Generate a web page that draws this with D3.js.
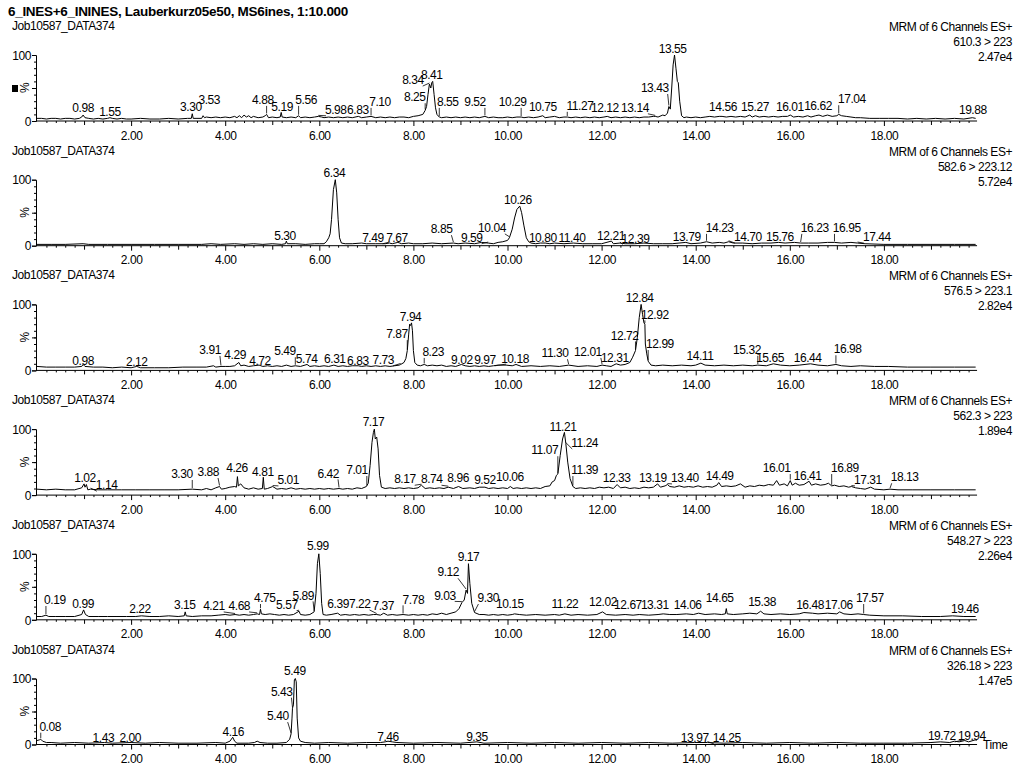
<!DOCTYPE html>
<html><head><meta charset="utf-8">
<script src="https://cdn.jsdelivr.net/npm/d3@7"></script>
<style>
body{margin:0;background:#fff;}
text{font-family:"Liberation Sans",Arial,sans-serif;font-size:12px;letter-spacing:-0.45px;fill:#000;}
</style></head><body>
<svg id="c" width="1017" height="770"></svg>
<script>
const title = "6_INES+6_ININES, Lauberkurz05e50, MS6ines, 1:10.000";
const sampleName = "Job10587_DATA374";
const channelDesc = "MRM of 6 Channels ES+";
const transitions = ["610.3 > 223","582.6 > 223.12","576.5 > 223.1","562.3 > 223","548.27 > 223","326.18 > 223"];
const intensities = ["2.47e4","5.72e4","2.82e4","1.89e4","2.26e4","1.47e5"];
const xTickLabels = [2,4,6,8,10,12,14,16,18];

const trace1 = [[0,4],[0.1,4],[0.2,3],[0.3,4],[0.4,4],[0.5,3],[0.6,4],[0.7,4],[0.8,3],[0.9,4],[0.95,6],[0.98,9],[1.02,5],[1.1,4],[1.2,3],[1.3,4],[1.4,3],[1.5,4],[1.55,5],[1.6,4],[1.7,3],[1.8,4],[1.9,3],[2.0,3],[2.2,4],[2.4,3],[2.6,3],[2.8,4],[3.0,3],[3.2,4],[3.28,4],[3.30,11],[3.32,4],[3.4,4],[3.5,4],[3.53,8],[3.56,5],[3.6,6],[3.7,5],[3.8,6],[3.9,5],[4.0,6],[4.1,5],[4.2,7],[4.25,5],[4.3,8],[4.35,5],[4.4,9],[4.45,6],[4.5,8],[4.55,5],[4.6,7],[4.7,5],[4.8,6],[4.85,8],[4.88,10],[4.92,5],[5.0,6],[5.1,5],[5.17,6],[5.19,13],[5.21,6],[5.3,5],[5.4,6],[5.5,5],[5.56,8],[5.6,5],[5.7,6],[5.8,5],[5.9,6],[5.98,7],[6.05,6],[6.1,5],[6.2,6],[6.3,5],[6.4,6],[6.5,5],[6.6,6],[6.7,5],[6.83,7],[6.9,5],[7.0,6],[7.1,7],[7.2,5],[7.3,6],[7.4,5],[7.5,6],[7.6,5],[7.7,6],[7.8,6],[7.9,5],[8.0,7],[8.1,8],[8.2,10],[8.25,16],[8.28,22],[8.31,40],[8.34,56],[8.37,50],[8.39,58],[8.41,60],[8.44,40],[8.47,20],[8.5,10],[8.55,6],[8.6,5],[8.7,6],[8.8,5],[8.9,6],[9.0,5],[9.1,6],[9.2,5],[9.3,6],[9.4,5],[9.52,7],[9.6,5],[9.7,6],[9.8,5],[9.9,5],[10.0,6],[10.1,5],[10.2,6],[10.29,6],[10.35,5],[10.45,6],[10.55,5],[10.65,6],[10.75,8],[10.8,5],[10.9,6],[11.0,7],[11.1,5],[11.2,6],[11.27,6],[11.35,5],[11.45,6],[11.55,5],[11.65,6],[11.75,5],[11.85,6],[11.95,5],[12.05,6],[12.12,7],[12.2,5],[12.3,6],[12.4,5],[12.5,6],[12.6,5],[12.7,6],[12.8,5],[12.9,6],[13.0,6],[13.1,7],[13.14,7],[13.2,6],[13.3,9],[13.35,8],[13.4,12],[13.43,22],[13.46,18],[13.49,50],[13.52,85],[13.55,100],[13.58,80],[13.61,60],[13.63,58],[13.66,30],[13.7,8],[13.75,5],[13.8,6],[13.9,5],[14.0,6],[14.1,5],[14.2,6],[14.3,7],[14.4,6],[14.5,7],[14.56,7],[14.65,6],[14.75,7],[14.85,6],[14.95,7],[15.05,6],[15.15,9],[15.2,6],[15.27,8],[15.35,6],[15.45,7],[15.55,6],[15.65,7],[15.75,6],[15.85,7],[15.95,7],[16.01,9],[16.08,6],[16.18,7],[16.28,6],[16.38,8],[16.45,6],[16.55,8],[16.62,9],[16.7,7],[16.8,9],[16.9,7],[17.0,8],[17.04,10],[17.1,8],[17.2,7],[17.3,6],[17.4,5],[17.5,5],[17.7,4],[17.9,4],[18.1,4],[18.3,4],[18.5,3],[18.7,4],[18.9,3],[19.1,4],[19.3,3],[19.5,4],[19.7,3],[19.88,5],[19.95,4]];
const trace2 = [[0,2],[0.3,2],[0.6,2],[0.98,3],[1.1,2],[1.5,2],[2.0,2],[2.5,2],[3.0,2],[3.5,2],[3.7,3],[3.9,2],[4.2,3],[4.4,2],[4.6,3],[4.8,2],[5.0,3],[5.2,2],[5.28,3],[5.30,7],[5.32,3],[5.5,3],[5.7,2],[5.9,3],[6.0,3],[6.1,3],[6.15,6],[6.2,12],[6.23,18],[6.26,40],[6.3,85],[6.34,100],[6.37,80],[6.4,40],[6.43,12],[6.47,4],[6.55,3],[6.7,3],[6.9,4],[7.0,3],[7.2,3],[7.4,3],[7.49,4],[7.55,3],[7.67,5],[7.75,3],[7.9,4],[8.0,3],[8.2,3],[8.4,4],[8.6,3],[8.85,4],[8.95,3],[9.1,4],[9.3,3],[9.45,5],[9.59,4],[9.7,3],[9.8,5],[9.9,6],[10.0,8],[10.04,12],[10.1,25],[10.15,42],[10.2,55],[10.26,60],[10.3,50],[10.35,30],[10.4,12],[10.45,6],[10.5,4],[10.6,3],[10.7,4],[10.8,4],[10.9,3],[11.0,4],[11.2,3],[11.4,4],[11.6,3],[11.8,3],[12.0,3],[12.21,7],[12.25,3],[12.39,4],[12.5,3],[12.7,3],[12.9,4],[13.1,3],[13.3,3],[13.5,3],[13.79,5],[13.9,3],[14.1,4],[14.23,6],[14.35,4],[14.5,5],[14.6,4],[14.7,6],[14.8,4],[15.0,4],[15.2,3],[15.4,4],[15.6,4],[15.76,5],[15.9,4],[16.1,5],[16.23,4],[16.4,4],[16.6,4],[16.8,5],[16.95,5],[17.1,4],[17.3,5],[17.44,4],[17.6,3],[18.0,2],[18.5,2],[19.0,2],[19.5,2],[19.95,2]];
const trace3 = [[0,6],[0.2,5],[0.4,5],[0.6,5],[0.8,5],[0.95,6],[0.98,9],[1.02,6],[1.2,5],[1.4,5],[1.6,4],[1.8,5],[2.0,4],[2.12,6],[2.2,4],[2.5,4],[2.8,4],[3.1,5],[3.4,5],[3.6,5],[3.75,7],[3.8,5],[3.91,6],[4.0,6],[4.1,6],[4.2,7],[4.29,12],[4.33,7],[4.4,8],[4.5,6],[4.6,7],[4.72,8],[4.8,6],[4.9,7],[5.0,6],[5.1,7],[5.2,6],[5.3,8],[5.4,6],[5.49,7],[5.6,6],[5.74,9],[5.8,6],[5.9,7],[6.0,6],[6.1,7],[6.2,6],[6.31,8],[6.4,6],[6.5,7],[6.6,6],[6.7,7],[6.83,7],[6.9,6],[7.0,7],[7.1,6],[7.2,7],[7.3,6],[7.4,7],[7.5,6],[7.6,7],[7.7,8],[7.73,9],[7.8,12],[7.84,18],[7.87,30],[7.9,55],[7.92,70],[7.94,68],[7.96,72],[7.98,60],[8.0,30],[8.03,12],[8.08,8],[8.15,7],[8.23,9],[8.3,7],[8.4,8],[8.5,7],[8.6,8],[8.7,6],[8.8,7],[8.9,6],[9.02,9],[9.1,7],[9.2,6],[9.3,7],[9.4,6],[9.5,7],[9.6,6],[9.7,7],[9.8,8],[9.97,8],[10.1,7],[10.18,9],[10.3,6],[10.5,7],[10.7,6],[10.9,7],[11.1,6],[11.3,8],[11.5,6],[11.7,7],[11.9,6],[12.01,8],[12.1,7],[12.2,6],[12.31,10],[12.4,8],[12.5,9],[12.6,12],[12.66,20],[12.72,30],[12.76,50],[12.8,80],[12.84,100],[12.87,85],[12.9,72],[12.92,70],[12.93,40],[12.96,25],[12.99,14],[13.05,8],[13.15,7],[13.3,8],[13.5,7],[13.7,8],[13.9,7],[14.0,8],[14.11,11],[14.2,8],[14.4,7],[14.6,8],[14.8,7],[15.0,8],[15.2,7],[15.32,8],[15.5,7],[15.65,10],[15.8,8],[16.0,7],[16.2,8],[16.44,10],[16.6,8],[16.8,7],[16.98,9],[17.1,7],[17.3,6],[17.5,7],[17.8,6],[18.1,6],[18.5,5],[19.0,5],[19.5,5],[19.95,5]];
const trace4 = [[0,9],[0.2,8],[0.4,9],[0.6,8],[0.8,8],[0.95,11],[1.0,17],[1.02,12],[1.05,16],[1.08,8],[1.14,9],[1.3,8],[1.5,8],[1.8,8],[2.1,8],[2.4,8],[2.7,8],[3.0,8],[3.3,9],[3.5,8],[3.6,10],[3.7,8],[3.8,11],[3.88,13],[3.92,9],[4.0,10],[4.1,12],[4.2,13],[4.24,12],[4.26,28],[4.28,14],[4.33,17],[4.4,11],[4.5,9],[4.6,11],[4.7,9],[4.79,10],[4.81,27],[4.83,9],[4.9,10],[5.01,13],[5.1,9],[5.2,10],[5.3,9],[5.4,11],[5.5,9],[5.6,10],[5.7,9],[5.8,10],[5.9,9],[6.0,10],[6.1,9],[6.2,10],[6.3,9],[6.42,10],[6.5,9],[6.6,10],[6.7,9],[6.8,11],[6.9,10],[7.0,13],[7.04,18],[7.08,45],[7.12,80],[7.15,95],[7.17,100],[7.19,85],[7.22,88],[7.25,70],[7.28,30],[7.32,12],[7.4,10],[7.5,11],[7.6,10],[7.7,11],[7.8,10],[7.9,11],[8.0,10],[8.1,11],[8.17,15],[8.25,10],[8.35,11],[8.45,10],[8.55,11],[8.65,10],[8.74,12],[8.85,10],[8.96,13],[9.05,10],[9.2,11],[9.3,10],[9.4,12],[9.52,12],[9.6,10],[9.7,11],[9.8,10],[9.9,11],[10.0,10],[10.06,13],[10.12,10],[10.2,11],[10.3,10],[10.4,11],[10.5,10],[10.6,11],[10.7,10],[10.8,13],[10.9,14],[10.95,20],[11.0,22],[11.04,30],[11.07,32],[11.12,60],[11.17,85],[11.21,95],[11.24,78],[11.28,50],[11.33,25],[11.39,13],[11.45,10],[11.55,11],[11.65,10],[11.75,11],[11.85,10],[11.95,12],[12.05,11],[12.15,12],[12.25,10],[12.33,16],[12.4,11],[12.5,12],[12.6,10],[12.7,11],[12.8,10],[12.9,12],[13.0,11],[13.1,12],[13.19,17],[13.25,12],[13.35,14],[13.4,16],[13.45,13],[13.55,12],[13.65,14],[13.75,12],[13.85,13],[13.95,12],[14.05,14],[14.15,12],[14.25,13],[14.35,12],[14.45,15],[14.49,19],[14.55,13],[14.65,14],[14.75,13],[14.85,14],[14.95,17],[15.05,12],[15.15,14],[15.25,13],[15.35,15],[15.45,14],[15.55,16],[15.65,15],[15.72,22],[15.78,15],[15.88,17],[15.95,14],[16.01,22],[16.05,15],[16.12,18],[16.2,15],[16.3,16],[16.41,21],[16.46,15],[16.55,17],[16.65,15],[16.75,16],[16.82,18],[16.89,14],[16.95,15],[17.05,13],[17.15,14],[17.25,12],[17.31,13],[17.4,11],[17.5,10],[17.6,9],[17.72,12],[17.8,9],[18.0,8],[18.13,9],[18.3,8],[18.6,8],[19.0,8],[19.5,8],[19.95,8]];
const trace5 = [[0,5],[0.1,5],[0.19,7],[0.25,5],[0.4,5],[0.6,5],[0.8,5],[0.95,8],[0.99,15],[1.03,8],[1.1,5],[1.3,5],[1.5,5],[1.7,5],[1.9,5],[2.1,5],[2.22,6],[2.4,5],[2.6,5],[2.8,6],[3.0,5],[3.13,6],[3.15,12],[3.17,6],[3.3,5],[3.5,6],[3.7,6],[3.85,7],[4.0,8],[4.1,7],[4.21,8],[4.3,7],[4.4,8],[4.5,7],[4.6,8],[4.68,9],[4.73,8],[4.75,16],[4.77,9],[4.85,8],[4.95,9],[5.05,8],[5.15,7],[5.25,8],[5.35,7],[5.45,8],[5.57,13],[5.6,8],[5.7,7],[5.8,8],[5.89,12],[5.93,40],[5.96,85],[5.99,100],[6.02,70],[6.05,25],[6.08,8],[6.15,7],[6.25,8],[6.39,10],[6.45,7],[6.55,8],[6.65,7],[6.75,8],[6.85,7],[6.95,8],[7.05,7],[7.15,8],[7.22,8],[7.3,7],[7.37,10],[7.45,7],[7.55,8],[7.65,7],[7.78,8],[7.9,7],[8.0,8],[8.1,7],[8.2,8],[8.3,7],[8.4,9],[8.5,8],[8.6,10],[8.7,8],[8.8,10],[8.9,12],[8.97,17],[9.03,26],[9.08,30],[9.12,45],[9.15,40],[9.17,85],[9.2,55],[9.24,25],[9.3,11],[9.4,8],[9.5,8],[9.6,7],[9.7,8],[9.8,7],[9.9,8],[10.0,7],[10.1,8],[10.15,9],[10.25,8],[10.4,7],[10.6,8],[10.8,7],[11.0,8],[11.1,7],[11.22,9],[11.35,7],[11.5,8],[11.7,7],[11.9,8],[12.02,12],[12.1,8],[12.3,7],[12.5,8],[12.67,7],[12.8,8],[13.0,7],[13.2,8],[13.31,9],[13.45,8],[13.6,8],[13.8,9],[13.95,8],[14.06,10],[14.2,8],[14.4,9],[14.55,8],[14.63,9],[14.65,17],[14.67,9],[14.8,8],[15.0,9],[15.15,10],[15.3,9],[15.38,13],[15.45,9],[15.6,8],[15.8,9],[16.0,8],[16.2,9],[16.3,11],[16.48,10],[16.6,9],[16.8,10],[17.0,9],[17.06,12],[17.15,9],[17.3,8],[17.45,9],[17.57,8],[17.7,7],[18.0,6],[18.4,6],[18.8,5],[19.2,5],[19.46,6],[19.7,5],[19.95,5]];
const trace6 = [[0,6],[0.05,7],[0.08,8],[0.12,5],[0.2,3],[0.3,3],[0.5,2],[0.8,3],[1.1,2],[1.43,3],[1.6,2],[2.0,3],[2.3,2],[2.6,3],[3.0,2],[3.4,2],[3.8,3],[4.0,2],[4.1,5],[4.16,11],[4.2,5],[4.25,2],[4.5,2],[4.62,3],[4.68,5],[4.74,3],[4.9,2],[5.1,2],[5.3,3],[5.37,8],[5.40,16],[5.42,40],[5.43,55],[5.45,60],[5.47,98],[5.49,100],[5.51,95],[5.53,40],[5.56,10],[5.6,5],[5.7,3],[5.9,2],[6.2,3],[6.6,2],[7.0,3],[7.3,3],[7.4,4],[7.46,5],[7.55,4],[7.65,3],[8.0,2],[8.5,3],[9.0,2],[9.35,4],[9.5,2],[10.0,3],[10.5,2],[11.0,3],[11.5,2],[12.0,3],[12.5,2],[13.0,3],[13.5,2],[13.97,3],[14.25,3],[14.6,2],[15.0,3],[15.5,2],[16.0,3],[16.5,2],[17.0,3],[17.5,2],[18.0,2],[18.5,2],[19.0,3],[19.2,4],[19.4,3],[19.5,5],[19.6,4],[19.72,6],[19.8,4],[19.94,7],[19.97,6]];

// peak labels: [text, peak time, label centre time, label centre height %, leader]
const labels1 = [["0.98",0.98,0.98,20,0],["1.55",1.55,1.55,14,0],["3.30",3.30,3.27,21,0],["3.53",3.53,3.66,32,0],["4.88",4.88,4.80,32,1],["5.19",5.19,5.21,21,0],["5.56",5.56,5.72,32,1],["5.98",5.98,6.35,17,1],["6.83",6.83,6.82,17,0],["7.10",7.10,7.29,29,1],["8.34",8.34,7.99,62,1],["8.41",8.41,8.39,70,0],["8.25",8.25,8.03,36,1],["8.55",8.55,8.73,29,1],["9.52",9.52,9.31,29,1],["10.29",10.29,10.11,29,1],["10.75",10.75,10.75,21,0],["11.27",11.27,11.54,23,1],["12.12",12.12,12.07,20,0],["13.14",13.14,12.71,20,1],["13.43",13.43,13.13,50,1],["13.55",13.55,13.51,109,0],["14.56",14.56,14.58,21,0],["15.27",15.27,15.26,21,0],["16.01",16.01,16.0,21,0],["16.62",16.62,16.6,23,0],["17.04",17.04,17.32,33,1],["19.88",19.88,19.89,17,0]];
const labels2 = [["5.30",5.30,5.27,15,0],["6.34",6.34,6.32,110,0],["7.49",7.49,7.14,12,1],["7.67",7.67,7.65,12,0],["8.85",8.85,8.60,25,1],["9.59",9.59,9.24,12,1],["10.04",10.04,9.67,27,1],["10.26",10.26,10.22,70,0],["10.80",10.80,10.75,12,0],["11.40",11.40,11.37,12,0],["12.21",12.21,12.20,15,0],["12.39",12.39,12.72,11,1],["13.79",13.79,13.81,13,0],["14.23",14.23,14.51,27,1],["14.70",14.70,15.11,13,1],["15.76",15.76,15.79,13,0],["16.23",16.23,16.53,27,1],["16.95",16.95,17.21,27,1],["17.44",17.44,17.85,13,1]];
const labels3 = [["0.98",0.98,0.98,14,0],["2.12",2.12,2.12,13,0],["3.91",3.91,3.68,31,1],["4.29",4.29,4.21,23,0],["4.72",4.72,4.74,14,0],["5.49",5.49,5.27,29,1],["5.74",5.74,5.73,17,0],["6.31",6.31,6.33,17,0],["6.83",6.83,6.82,14,0],["7.73",7.73,7.36,16,1],["7.87",7.87,7.65,55,1],["7.94",7.94,7.94,81,0],["8.23",8.23,8.42,28,1],["9.02",9.02,9.03,16,0],["9.97",9.97,9.52,16,1],["10.18",10.18,10.16,17,0],["11.30",11.30,11.01,26,1],["12.01",12.01,11.71,28,1],["12.31",12.31,12.28,19,0],["12.72",12.72,12.49,53,1],["12.84",12.84,12.81,110,0],["12.92",12.92,13.13,85,1],["12.99",12.99,13.24,40,1],["14.11",14.11,14.09,22,0],["15.32",15.32,15.09,31,1],["15.65",15.65,15.58,19,0],["16.44",16.44,16.38,19,0],["16.98",16.98,17.23,32,1]];
const labels4 = [["1.02",1.02,1.02,26,0],["1.14",1.14,1.48,15,1],["3.30",3.30,3.08,32,1],["3.88",3.88,3.64,35,1],["4.26",4.26,4.25,41,0],["4.81",4.81,4.80,35,0],["5.01",5.01,5.34,23,1],["6.42",6.42,6.19,33,1],["7.01",7.01,6.80,38,1],["7.17",7.17,7.15,111,0],["8.17",8.17,7.82,24,1],["8.74",8.74,8.39,24,1],["8.96",8.96,8.95,26,0],["9.52",9.52,9.52,23,0],["10.06",10.06,10.05,27,0],["11.07",11.07,10.79,68,1],["11.21",11.21,11.18,103,0],["11.24",11.24,11.64,79,1],["11.39",11.39,11.64,38,1],["12.33",12.33,12.32,26,0],["13.19",13.19,13.09,26,0],["13.40",13.40,13.77,26,1],["14.49",14.49,14.51,30,0],["16.01",16.01,15.72,41,1],["16.41",16.41,16.38,30,0],["16.89",16.89,17.17,41,1],["17.31",17.31,17.66,23,1],["18.13",18.13,18.44,27,1]];
const labels5 = [["0.19",0.19,0.38,30,1],["0.99",0.99,0.98,25,0],["2.22",2.22,2.19,16,0],["3.15",3.15,3.14,22,0],["4.21",4.21,3.76,21,1],["4.68",4.68,4.30,21,1],["4.75",4.75,4.84,33,1],["5.57",5.57,5.31,23,1],["5.89",5.89,5.66,37,1],["5.99",5.99,5.97,112,0],["6.39",6.39,6.40,24,0],["7.22",7.22,6.86,24,1],["7.37",7.37,7.36,21,0],["7.78",7.78,8.00,31,1],["9.03",9.03,8.67,37,1],["9.12",9.12,8.74,72,1],["9.17",9.17,9.17,95,0],["9.30",9.30,9.59,33,1],["10.15",10.15,10.05,25,0],["11.22",11.22,11.22,24,0],["12.02",12.02,12.03,27,0],["12.67",12.67,12.56,22,0],["13.31",13.31,13.13,22,0],["14.06",14.06,13.83,22,0],["14.65",14.65,14.51,33,0],["15.38",15.38,15.41,27,0],["16.48",16.48,16.43,22,0],["17.06",17.06,17.04,22,0],["17.57",17.57,17.70,33,1],["19.46",19.46,19.72,16,0]];
const labels6 = [["0.08",0.08,0.28,27,1],["1.43",1.43,1.41,10,0],["2.00",2.00,1.98,10,0],["4.16",4.16,4.17,19,0],["5.40",5.40,5.12,43,1],["5.43",5.43,5.20,80,1],["5.49",5.49,5.48,111,0],["7.46",7.46,7.46,12,0],["9.35",9.35,9.35,12,0],["13.97",13.97,13.98,10,0],["14.25",14.25,14.66,10,1],["19.72",19.72,19.23,13,1],["19.94",19.94,19.87,13,0]];

const traces = [trace1,trace2,trace3,trace4,trace5,trace6];
const labelSets = [labels1,labels2,labels3,labels4,labels5,labels6];

const svg = d3.select("#c");
const x = d3.scaleLinear().domain([0,20]).range([37,978]);
const panelTop0 = 55, panelStep = 124.7, panelH = 66;

svg.append("text").attr("x",8).attr("y",16).style("font-weight","bold").style("font-size","13.5px").style("letter-spacing","-0.3px").text(title);

traces.forEach((tr,k)=>{
  const top = panelTop0 + k*panelStep;
  const y = d3.scaleLinear().domain([0,100]).range([top+panelH, top]);
  const g = svg.append("g");
  // headers
  g.append("text").attr("x",12).attr("y",top-25).text(sampleName);
  const hx = 1012;
  g.append("text").attr("x",hx).attr("y",top-24).attr("text-anchor","end").text(channelDesc);
  g.append("text").attr("x",hx).attr("y",top-9).attr("text-anchor","end").text(transitions[k]);
  g.append("text").attr("x",hx).attr("y",top+6).attr("text-anchor","end").text(intensities[k]);
  // y axis
  const ya = g.append("g").attr("transform",`translate(${x(0)-1},0)`)
    .call(d3.axisLeft(y).tickValues([0,100]).tickFormat(d=>d).tickSize(4).tickPadding(1));
  ya.select(".domain").attr("stroke","#000");
  ya.selectAll("text").style("font-size","12px").attr("dy","0.35em");
  g.append("g").attr("transform",`translate(${x(0)-1},0)`)
    .call(d3.axisLeft(y).tickValues(d3.range(10,100,10)).tickFormat("").tickSize(2).tickSizeOuter(0))
    .call(s=>s.select(".domain").remove());
  g.append("g").attr("transform",`translate(${x(0)-1},0)`)
    .call(d3.axisLeft(y).tickValues([50]).tickFormat("").tickSize(4).tickSizeOuter(0))
    .call(s=>s.select(".domain").remove());
  g.append("text").attr("transform",`translate(29,${y(50)}) rotate(-90)`).attr("text-anchor","middle").text("%");
  if(k===0) g.append("rect").attr("x",12).attr("y",y(50)-3).attr("width",6).attr("height",7).attr("fill","#000");
  // x axis
  const base = y(0);
  const xa = g.append("g").attr("transform",`translate(0,${base})`)
    .call(d3.axisBottom(x).tickValues(xTickLabels).tickFormat(d3.format(".2f")).tickSize(5).tickSizeOuter(0).tickPadding(5));
  xa.select(".domain").attr("d",`M${x(0)-1},0H${x(19.98)}`);
  g.append("g").attr("transform",`translate(0,${base})`)
    .call(d3.axisBottom(x).tickValues(d3.range(1,20,2)).tickFormat("").tickSize(4).tickSizeOuter(0))
    .call(s=>s.select(".domain").remove());
  g.append("g").attr("transform",`translate(0,${base})`)
    .call(d3.axisBottom(x).tickValues(d3.range(0.2,19.99,0.2).filter(v=>Math.abs(v-Math.round(v))>0.01)).tickFormat("").tickSize(2).tickSizeOuter(0))
    .call(s=>s.select(".domain").remove());
  if(k===5) g.append("text").attr("x",983).attr("y",base+4).text("Time");
  // trace
  g.append("path").datum(tr).attr("fill","none").attr("stroke","#000").attr("stroke-width",1)
    .attr("d",d3.line().x(d=>x(d[0])).y(d=>y(d[1])));
  // labels
  labelSets[k].forEach(l=>{
    const t = g.append("text").attr("x",x(l[2])).attr("y",y(l[3])).attr("dy","0.35em").attr("text-anchor","middle").text(l[0]);
    if(l[4]){
      const w = t.node().getComputedTextLength();
      const lx = x(l[2]), px = x(l[1]);
      const pk = d3.least(tr,d=>Math.abs(d[0]-l[1]));
      const py = y(pk[1]) - 1;
      const left = lx - w/2, right = lx + w/2;
      const ax = px < left ? left+1 : (px > right ? right-1 : px);
      const ay = y(l[3]) + 6;
      g.append("line").attr("x1",ax).attr("y1",ay).attr("x2",px).attr("y2",py).attr("stroke","#000").attr("stroke-width",0.8);
    }
  });
});
</script></body></html>
